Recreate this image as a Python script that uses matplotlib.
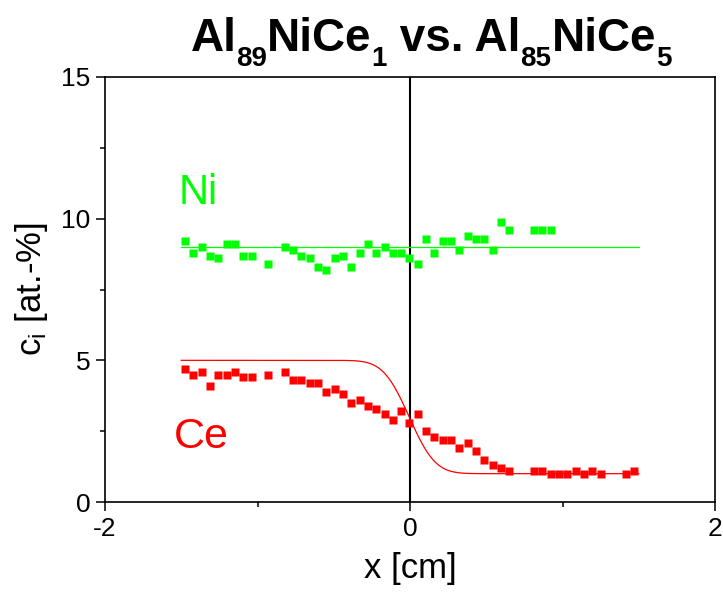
import math
import matplotlib
matplotlib.use("Agg")
import matplotlib.pyplot as plt
from matplotlib import font_manager
from matplotlib.ticker import MultipleLocator
import numpy as np

# ---- data ----
ni_x = [-1.475, -1.42, -1.366, -1.31, -1.257, -1.202, -1.148, -1.093, -1.038, -0.931,
        -0.822, -0.767, -0.713, -0.658, -0.603, -0.549, -0.494, -0.439, -0.385, -0.330,
        -0.275, -0.221, -0.166, -0.111, -0.057, -0.005, 0.050, 0.105, 0.160, 0.214,
        0.269, 0.323, 0.378, 0.433, 0.487, 0.542, 0.595, 0.649, 0.813, 0.868, 0.923]
ni_c = [9.2, 8.8, 9.0, 8.7, 8.6, 9.1, 9.1, 8.7, 8.7, 8.4,
        9.0, 8.9, 8.7, 8.6, 8.3, 8.2, 8.6, 8.7, 8.3, 8.8,
        9.1, 8.8, 9.0, 8.8, 8.8, 8.6, 8.4, 9.3, 8.8, 9.2,
        9.2, 8.9, 9.4, 9.3, 9.3, 8.9, 9.9, 9.6, 9.6, 9.6, 9.6]

ce_x = [-1.475, -1.42, -1.366, -1.31, -1.257, -1.202, -1.148, -1.093, -1.038, -0.931,
        -0.822, -0.767, -0.713, -0.658, -0.603, -0.549, -0.494, -0.439, -0.385, -0.330,
        -0.275, -0.221, -0.166, -0.111, -0.057, -0.005, 0.050, 0.105, 0.160, 0.214,
        0.269, 0.323, 0.378, 0.433, 0.487, 0.542, 0.595, 0.649, 0.813, 0.868,
        0.923, 0.977, 1.032, 1.087, 1.141, 1.196, 1.251, 1.414, 1.469]
ce_c = [4.7, 4.5, 4.6, 4.1, 4.5, 4.5, 4.6, 4.4, 4.4, 4.5,
        4.6, 4.3, 4.3, 4.2, 4.2, 3.9, 4.0, 3.8, 3.5, 3.6,
        3.4, 3.3, 3.1, 2.9, 3.2, 2.8, 3.1, 2.5, 2.3, 2.2,
        2.2, 1.9, 2.1, 1.8, 1.5, 1.3, 1.2, 1.1, 1.1, 1.1,
        1.0, 1.0, 1.0, 1.1, 1.0, 1.1, 1.0, 1.0, 1.1]

# fit parameters
fit_range = [-1.5, 1.5]
ni_fit_level = 9.0
ce_left, ce_right = 5.0, 1.0
ce_x0, ce_width = -0.005, 0.19

x_ticks = [-2, 0, 2]
y_ticks = [0, 5, 10, 15]

# title pieces: (text, is_subscript)
title_parts = [("Al", False), ("89", True), ("NiCe", False), ("1", True),
               (" vs. Al", False), ("85", True), ("NiCe", False), ("5", True)]

# ---- fonts ----
names = {f.name for f in font_manager.fontManager.ttflist}
narrow = 'Liberation Sans Narrow' if 'Liberation Sans Narrow' in names else 'Liberation Sans'
plt.rcParams['font.family'] = ['Liberation Sans', 'DejaVu Sans']
plt.rcParams['axes.unicode_minus'] = False
plt.rcParams['mathtext.fontset'] = 'custom'
plt.rcParams['mathtext.rm'] = 'Liberation Sans'
plt.rcParams['mathtext.it'] = 'Liberation Sans:italic'
plt.rcParams['mathtext.bf'] = 'Liberation Sans:bold'

fig = plt.figure(figsize=(7.23, 5.93), dpi=100)
ax = fig.add_axes([105 / 723, 1 - 502 / 593, 610 / 723, 425 / 593])

GREEN = '#00ff00'
RED = '#ff0000'

xf = np.linspace(fit_range[0], fit_range[1], 400)
ax.plot(fit_range, [ni_fit_level, ni_fit_level], color=GREEN, lw=0.9, zorder=2)
ce_fit = [(ce_left + ce_right) / 2 - (ce_left - ce_right) / 2 * math.erf((v - ce_x0) / ce_width) for v in xf]
ax.plot(xf, ce_fit, color=RED, lw=0.9, zorder=2)

ax.plot(ni_x, ni_c, 's', color=GREEN, ms=6, mec='none', zorder=3)
ax.plot(ce_x, ce_c, 's', color=RED, ms=6, mec='none', zorder=3)

ax.axvline(0, color='black', lw=1.5, zorder=1)

ax.set_xlim(-2, 2)
ax.set_ylim(0, 15)
ax.set_xticks(x_ticks)
ax.set_yticks(y_ticks)
ax.xaxis.set_minor_locator(MultipleLocator(1))
ax.yaxis.set_minor_locator(MultipleLocator(2.5))
ax.tick_params(which='major', direction='out', length=6.5, width=1.1, labelsize=19, pad=4)
ax.tick_params(which='minor', direction='out', length=3.5, width=1.1)
for s in ax.spines.values():
    s.set_linewidth(1.2)

ax.set_xlabel('x [cm]', fontsize=25, labelpad=8)
ax.set_ylabel(r'c$_\mathrm{i}$ [at.-%]', fontsize=25, labelpad=8)

ax.text(-1.52, 10.5, 'Ni', color=GREEN, fontsize=30, ha='left', va='baseline')
ax.text(-1.55, 1.9, 'Ce', color=RED, fontsize=31, ha='left', va='baseline')

# ---- title built from pieces with real subscripts ----
main_size, sub_size = 33, 20
baseline_px = 51       # from top
sub_drop_px = 15
renderer = fig.canvas.get_renderer()
texts = []
cur = 0.0
for txt, sub in title_parts:
    t = fig.text(0, 0, txt, fontsize=sub_size if sub else main_size,
                 fontweight='bold', family=[narrow, 'Liberation Sans'],
                 ha='left', va='baseline')
    bb = t.get_window_extent(renderer)
    texts.append((t, cur, sub))
    cur += bb.width
total = cur
center_px = 431
start = center_px - total / 2
H = 593
W = 723
for t, off, sub in texts:
    y = H - baseline_px - (sub_drop_px if sub else 0)
    t.set_position(((start + off) / W, y / H))

fig.savefig('out.png', dpi=100)
